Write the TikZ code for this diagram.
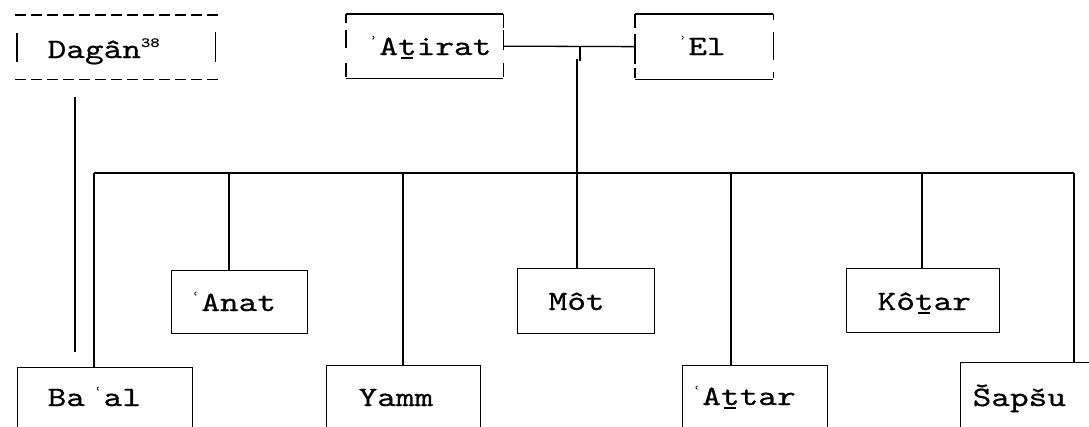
\documentclass[tikz,border=0pt]{standalone}
\usepackage{fontspec}
\usetikzlibrary{calc}
\newfontfamily\cour{lmmono10-regular}[Extension=.otf,FakeStretch=1.27,FakeBold=0.6]
\newfontfamily\dvs{DejaVu Sans}
\newcommand\ainm{\makebox[18.7pt][r]{\raisebox{8pt}{\dvs\fontsize{15}{15}\selectfont ʿ}\hspace{3pt}}}
\newcommand\alefm{\makebox[18.7pt][r]{\raisebox{8pt}{\dvs\fontsize{15}{15}\selectfont ʾ}\hspace{3pt}}}
\newcommand\ut{\makebox[0pt][l]{\hspace{3pt}\rule[-3.5pt]{12pt}{1.4pt}}t}
\begin{document}
\begin{tikzpicture}[x=1pt,y=-1pt,line width=1.3pt,
  box/.style={draw,rectangle,anchor=north west,inner sep=0pt},
  frame/.style={draw=none,rectangle,anchor=north west,inner sep=0pt},
  txt/.style={inner sep=0pt,anchor=base west,font=\cour\fontsize{28}{30}\selectfont}]
\useasboundingbox (0,0) rectangle (1089,426);
\clip (0,0) rectangle (1089,426);
% parent / top row frames
\node[frame,minimum width=205pt,minimum height=63pt] (dagan) at (15,15) {};
\node[txt] (dagant) at (47,58) {Dagân\raisebox{11pt}{\fontsize{14}{14}\selectfont 38}};
\node[frame,minimum width=156pt,minimum height=63pt] (atirat) at (346,14) {};
\node[txt] (atiratt) at (360,55) {\alefm A\ut irat};
\node[frame,minimum width=137pt,minimum height=64pt] (el) at (635,14) {};
\node[txt] (elt) at (669,55) {\alefm El};
% Dagan dashed frame
\draw[dash pattern=on 11pt off 5pt] (dagan.north west) -- (dagan.north east);
\draw[dash pattern=on 11pt off 5pt] (dagan.south west) -- (dagan.south east);
\draw ($(dagan.north west)+(2,18)$) -- ($(dagan.north west)+(2,47)$);
\draw ($(dagan.north east)+(-6,17)$) -- ($(dagan.north east)+(-6,47)$);
% bracket frames
\draw (atirat.north west) -- (atirat.north east);
\draw (atirat.south west) -- (atirat.south east);
\draw[dash pattern=on 9pt off 7pt on 18pt off 15pt on 14pt] (atirat.north west) -- (atirat.south west);
\draw[dash pattern=on 14pt off 2pt on 20pt off 13pt on 14pt] (atirat.north east) -- (atirat.south east);
\draw (el.north west) -- (el.north east);
\draw (el.south west) -- (el.south east);
\draw[dash pattern=on 14pt off 6pt on 30pt off 4pt on 10pt] (el.north west) -- (el.south west);
\draw[dash pattern=on 6pt off 12pt on 28pt off 12pt on 6pt] (el.north east) -- (el.south east);
% children
\node[box,minimum width=136pt,minimum height=63pt] (anat) at (171,270) {};
\node[txt] (anatt) at (182,311) {\ainm Anat};
\node[box,minimum width=137pt,minimum height=65pt] (mot) at (517,268) {};
\node[txt] (mott) at (548,310) {Môt};
\node[box,minimum width=153pt,minimum height=64pt] (kotar) at (846,268) {};
\node[txt] (kotart) at (877,310) {Kô\ut ar};
\node[box,minimum width=175pt,minimum height=120pt] (baal) at (17,367) {};
\node[txt] (baalt) at (47,406) {Ba\ainm al};
\node[box,minimum width=154pt,minimum height=120pt] (yamm) at (326,365) {};
\node[txt] (yammt) at (358,406) {Yamm};
\node[box,minimum width=145pt,minimum height=120pt] (attar) at (682,365) {};
\node[txt] (attart) at (683,405) {\ainm A\ut tar};
\node[box,minimum width=160pt,minimum height=120pt] (sapsu) at (960,362) {};
\node[txt] (sapsut) at (972,406) {Šapšu};
% connectors
\coordinate (dg1) at (75,97);
\coordinate (dg2) at (75,352);
\draw (dg1) -- (dg2);
\draw (atirat.east) -- (el.west);
\coordinate (j1) at (580,45.5);
\coordinate (j2) at (580,61);
\coordinate (j3) at (577,59);
\draw (j1) -- (j2);
\coordinate (barL) at (94,173);
\coordinate (barR) at (1074,173);
\draw (barL) -- (barR);
\draw (j3) -- (j3 |- mot.north);
\draw (barL) -- (barL |- baal.north);
\draw (barR) -- (barR |- sapsu.north);
\coordinate (banat) at (229,173);
\coordinate (byamm) at (403,173);
\coordinate (battar) at (731,173);
\coordinate (bkotar) at (922,173);
\draw (banat) -- (banat |- anat.north);
\draw (byamm) -- (byamm |- yamm.north);
\draw (battar) -- (battar |- attar.north);
\draw (bkotar) -- (bkotar |- kotar.north);
\end{tikzpicture}
\end{document}
